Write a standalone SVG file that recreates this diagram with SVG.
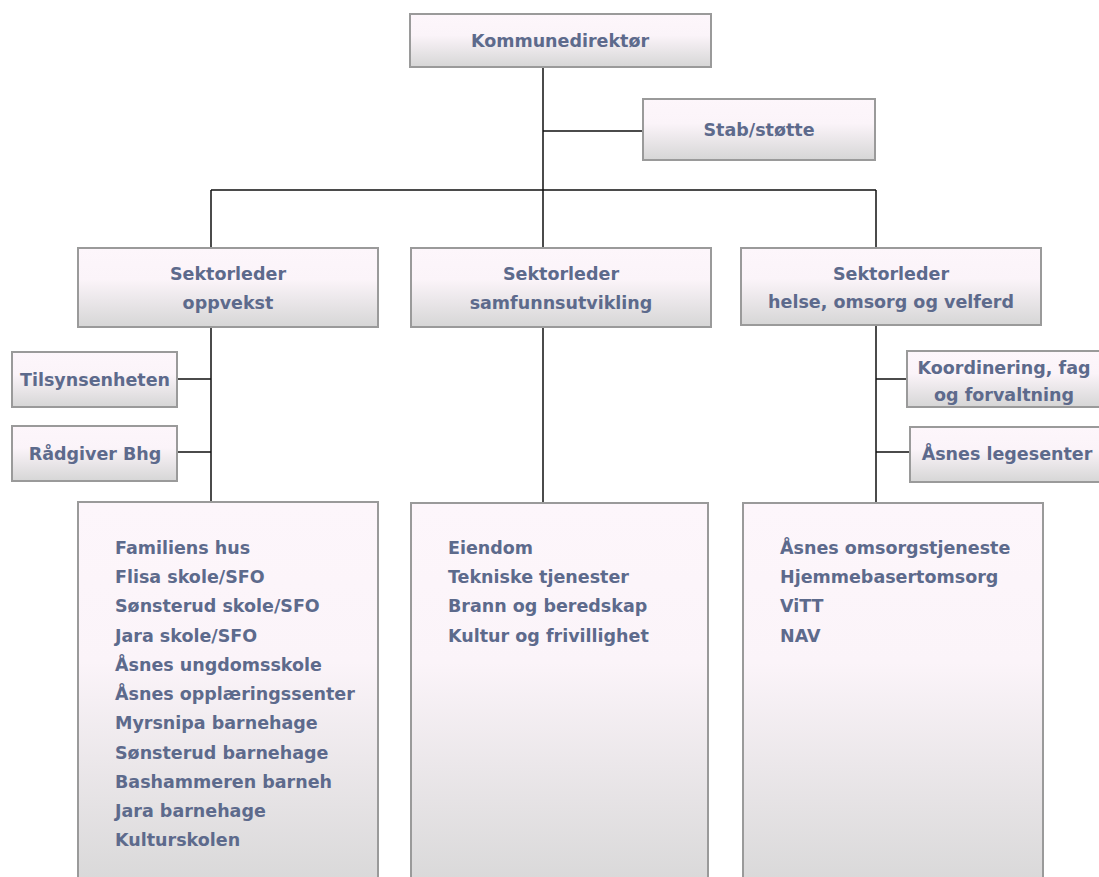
<svg xmlns="http://www.w3.org/2000/svg" width="1099" height="877" viewBox="0 0 1099 877">
<style>
.box{fill:url(#g);stroke:#9a9a9a;stroke-width:2}
.t{font-family:"DejaVu Sans",Verdana,sans-serif;font-weight:bold;font-size:17.5px;fill:#5d6a8c}
.c{text-anchor:middle}
.ln{stroke:#111;stroke-width:1.5;fill:none}
</style>
<defs>
<linearGradient id="g" x1="0" y1="0" x2="0" y2="1">
<stop offset="0" stop-color="#fdf6fb"/>
<stop offset="0.4" stop-color="#fbf4f9"/>
<stop offset="1" stop-color="#d6d6d6"/>
</linearGradient>
</defs>
<rect width="1099" height="877" fill="#fff"/>
<g id="connectors">
<path class="ln" d="M543 67V503M543 131H643M211 190H876M211 190V503M876 190V503M177 379H211M177 452H211M876 379H907M876 452H910"/>
</g>
<g id="n-direktor"><rect class="box" x="410" y="14" width="301" height="53"/><text class="t c" x="560" y="47">Kommunedirektør</text></g>
<g id="n-stab"><rect class="box" x="643" y="99" width="232" height="61"/><text class="t c" x="759" y="136">Stab/støtte</text></g>
<g id="n-oppvekst"><rect class="box" x="78" y="248" width="300" height="79"/><text class="t c" x="228" y="280">Sektorleder</text><text class="t c" x="228" y="309">oppvekst</text></g>
<g id="n-samfunn"><rect class="box" x="411" y="248" width="300" height="79"/><text class="t c" x="561" y="280">Sektorleder</text><text class="t c" x="561" y="309">samfunnsutvikling</text></g>
<g id="n-helse"><rect class="box" x="741" y="248" width="300" height="77"/><text class="t c" x="891" y="280">Sektorleder</text><text class="t c" x="891" y="308">helse, omsorg og velferd</text></g>
<g id="n-tilsyn"><rect class="box" x="12" y="352" width="165" height="55"/><text class="t c" x="95" y="386">Tilsynsenheten</text></g>
<g id="n-radgiver"><rect class="box" x="12" y="426" width="165" height="55"/><text class="t c" x="95" y="460">Rådgiver Bhg</text></g>
<g id="n-koord"><rect class="box" x="907" y="351" width="200" height="56"/><text class="t c" x="1004" y="374">Koordinering, fag</text><text class="t c" x="1004" y="401">og forvaltning</text></g>
<g id="n-lege"><rect class="box" x="910" y="427" width="200" height="55"/><text class="t c" x="1007" y="460">Åsnes legesenter</text></g>
<g id="n-oppvekst-enheter"><rect class="box" x="78" y="502" width="300" height="400"/>
<text class="t" x="115" y="554">Familiens hus</text>
<text class="t" x="115" y="583">Flisa skole/SFO</text>
<text class="t" x="115" y="612">Sønsterud skole/SFO</text>
<text class="t" x="115" y="642">Jara skole/SFO</text>
<text class="t" x="115" y="671">Åsnes ungdomsskole</text>
<text class="t" x="115" y="700">Åsnes opplæringssenter</text>
<text class="t" x="115" y="729">Myrsnipa barnehage</text>
<text class="t" x="115" y="759">Sønsterud barnehage</text>
<text class="t" x="115" y="788">Bashammeren barneh</text>
<text class="t" x="115" y="817">Jara barnehage</text>
<text class="t" x="115" y="846">Kulturskolen</text>
</g>
<g id="n-samfunn-enheter"><rect class="box" x="411" y="503" width="297" height="400"/>
<text class="t" x="448" y="554">Eiendom</text>
<text class="t" x="448" y="583">Tekniske tjenester</text>
<text class="t" x="448" y="612">Brann og beredskap</text>
<text class="t" x="448" y="642">Kultur og frivillighet</text>
</g>
<g id="n-helse-enheter"><rect class="box" x="743" y="503" width="300" height="400"/>
<text class="t" x="780" y="554">Åsnes omsorgstjeneste</text>
<text class="t" x="780" y="583">Hjemmebasertomsorg</text>
<text class="t" x="780" y="612">ViTT</text>
<text class="t" x="780" y="642">NAV</text>
</g>
</svg>
